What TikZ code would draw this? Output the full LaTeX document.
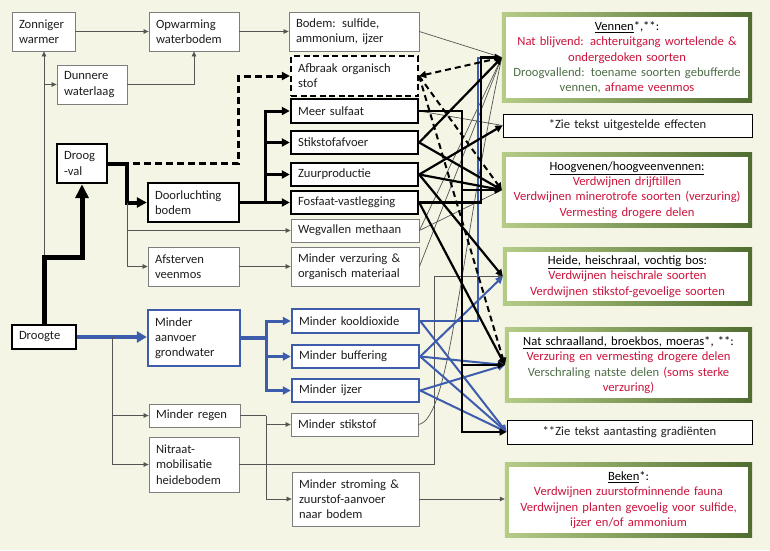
\documentclass[tikz,border=0pt]{standalone}
\usepackage{fontspec}
\setmainfont{Carlito}
\usetikzlibrary{arrows.meta,backgrounds,calc}
\definecolor{cream}{RGB}{244,245,228}
\definecolor{bblue}{RGB}{62,92,172}
\definecolor{tred}{RGB}{204,20,60}
\definecolor{tgreen}{RGB}{78,110,70}
\definecolor{gl}{RGB}{180,204,134}
\definecolor{gd}{RGB}{80,108,48}
\definecolor{lgray}{RGB}{125,125,125}
\definecolor{tgray}{RGB}{85,85,85}
\definecolor{txt}{RGB}{30,30,30}
\begin{document}
\begin{tikzpicture}[x=1pt,y=-1pt, font=\fontsize{12.6}{15.2}\selectfont,
  box/.style={fill=white, inner xsep=7pt, inner ysep=0pt, align=left, text=txt},
  thinbox/.style={box, draw=lgray, line width=0.8pt},
  thickbox/.style={box, draw=black, line width=2.4pt},
  dashbox/.style={box, draw=black, line width=2.2pt, dash pattern=on 6pt off 3.5pt},
  bluebox/.style={box, draw=bblue, line width=2.4pt},
  gbox/.style={inner xsep=2pt, inner ysep=0pt, align=center, text=black},
  zbox/.style={fill=white, draw=black, line width=1pt, inner xsep=2pt, inner ysep=0pt, align=center, text=txt},
  thinl/.style={draw=tgray, line width=0.7pt},
  tarr/.style={thinl, -{Triangle[length=5pt,width=4.5pt]}},
  blk/.style={draw=black, line width=2.2pt, -{Triangle[length=7pt,width=7pt]}},
  blu/.style={draw=bblue, line width=2pt, -{Triangle[length=7pt,width=7pt]}},
  dsh/.style={draw=black, line width=2pt, dash pattern=on 6pt off 4pt}
]
\useasboundingbox (0,0) rectangle (770,550);

% ---- left / middle nodes
\node[thinbox, text width=49pt, minimum height=39pt] (zon) at (43.5,31.5) {Zonniger\\warmer};
\node[thinbox, text width=76pt, minimum height=39pt] (opw) at (194,31.5) {Opwarming\\waterbodem};
\node[thinbox, text width=116pt, minimum height=39pt] (bod) at (354,31.5) {Bodem: sulfide,\\ammonium, ijzer};
\node[thinbox, text width=56pt, minimum height=39pt] (dun) at (92,84.5) {Dunnere\\waterlaag};
\node[dashbox, text width=113pt, minimum height=40pt] (afb) at (354.5,76) {Afbraak organisch\\stof};
\node[thickbox, text width=113pt, minimum height=24pt] (sul) at (354.5,111) {Meer sulfaat};
\node[thickbox, text width=113pt, minimum height=23pt] (stik) at (354.5,142.5) {Stikstofafvoer};
\node[thickbox, text width=113pt, minimum height=23pt] (zuur) at (354.5,174.5) {Zuurproductie};
\node[thickbox, text width=113pt, minimum height=23pt] (fos) at (354.5,202.5) {Fosfaat-vastlegging};
\node[thinbox, text width=114pt, minimum height=23pt] (weg) at (355,230.5) {Wegvallen methaan};
\node[thinbox, text width=114pt, minimum height=39pt] (verz) at (355,266.5) {Minder verzuring \&\\organisch materiaal};
\node[thickbox, text width=36pt, minimum height=39pt] (drv) at (82,163.5) {Droog\\-val};
\node[thickbox, text width=77pt, minimum height=39pt] (door) at (193.5,202.5) {Doorluchting\\bodem};
\node[thinbox, text width=77pt, minimum height=39pt] (afst) at (193.5,266.5) {Afsterven\\veenmos};
\node[thickbox, text width=50pt, minimum height=24pt] (droo) at (44,337) {Droogte};
\node[bluebox, text width=78pt, minimum height=56pt] (aanv) at (194,338) {Minder\\aanvoer\\grondwater};
\node[bluebox, text width=113pt, minimum height=24pt] (kool) at (355.5,321) {Minder kooldioxide};
\node[bluebox, text width=113pt, minimum height=23pt] (buf) at (355.5,356.5) {Minder buffering};
\node[bluebox, text width=113pt, minimum height=23pt] (ijz) at (355.5,390.5) {Minder ijzer};
\node[thinbox, text width=77pt, minimum height=23pt] (reg) at (194.5,415.5) {Minder regen};
\node[thinbox, text width=113pt, minimum height=23pt] (mst) at (354.5,424.5) {Minder stikstof};
\node[thinbox, text width=76pt, minimum height=55pt] (nit) at (194,464.5) {Nitraat-\\mobilisatie\\heidebodem};
\node[thinbox, text width=113pt, minimum height=54pt] (str) at (355.5,499) {Minder stroming \&\\zuurstof-aanvoer\\naar bodem};

% ---- right nodes
\node[gbox, text width=246pt, minimum height=89pt] (ven) at (627,57.5) {\underline{Vennen}*,**:\\\textcolor{tred}{Nat blijvend: achteruitgang wortelende \&}\\\textcolor{tred}{ondergedoken soorten}\\\textcolor{tgreen}{Droogvallend: toename soorten gebufferde}\\\textcolor{tgreen}{vennen,} \textcolor{tred}{afname veenmos}};
\node[zbox, text width=245pt, minimum height=23pt] (zie1) at (627.5,125.5) {*Zie tekst uitgestelde effecten};
\node[gbox, text width=246pt, minimum height=74pt] (hoog) at (627,190) {\underline{Hoogvenen/hoogveenvennen:}\\\textcolor{tred}{Verdwijnen drijftillen}\\\textcolor{tred}{Verdwijnen minerotrofe soorten (verzuring)}\\\textcolor{tred}{Vermesting drogere delen}};
\node[gbox, text width=245pt, minimum height=57pt] (heide) at (627.5,276.5) {\underline{Heide, heischraal, vochtig bos}:\\\textcolor{tred}{Verdwijnen heischrale soorten}\\\textcolor{tred}{Verdwijnen stikstof-gevoelige soorten}};
\node[gbox, text width=243pt, minimum height=74pt] (nat) at (628.5,365) {\underline{Nat schraalland, broekbos, moeras}*, **:\\\textcolor{tred}{Verzuring en vermesting drogere delen}\\\textcolor{tgreen}{Verschraling natste delen} \textcolor{tred}{(soms sterke}\\\textcolor{tred}{verzuring)}};
\node[zbox, text width=241pt, minimum height=24pt] (zie2) at (629.5,432) {**Zie tekst aantasting gradiënten};
\node[gbox, text width=243pt, minimum height=74pt] (bek) at (628.5,500) {\underline{Beken}*:\\\textcolor{tred}{Verdwijnen zuurstofminnende fauna}\\\textcolor{tred}{Verdwijnen planten gevoelig voor sulfide,}\\\textcolor{tred}{ijzer en/of ammonium}};

% ---- bend coordinates
\coordinate (b1) at (44,257);
\coordinate (b2) at (127,163.5);
\coordinate (b3) at (265,202.5);
\coordinate (b4) at (112,337);
\coordinate (b5) at (266,338);
\coordinate (b6) at (266,415.5);
\coordinate (b7) at (238,163.5);
\coordinate (vn) at (434,0);
\coordinate (vs) at (462,0);
\coordinate (vk) at (478,0);
\coordinate (vf) at (481,0);

% ---- left connectors
\draw[tarr] (zon.east) -- (opw.west);
\draw[tarr] (opw.east) -- (bod.west);
\draw[tarr] (droo.north) -- (droo.north |- zon.south);
\draw[tarr] (droo.north |- dun.west) -- (dun.west);
\draw[tarr] (dun.east) -| (opw.south);
\draw[draw=black, line width=5pt, -{Triangle[length=14pt,width=13pt]}] (droo.north) -- (b1) -| (drv.south);
\draw[draw=black, line width=4pt, -{Triangle[length=10pt,width=10pt]}] (drv.east) -- (b2) |- (door.west);
\draw[draw=black, line width=3pt, dash pattern=on 7pt off 4pt, -{Triangle[length=8pt,width=8pt]}] ([xshift=6pt]b2) -- (b7) |- (afb.west);
\draw[tarr] (b2 |- door.west) |- (weg.west);
\draw[tarr] (b2 |- door.west) |- (afst.west);
\draw[tarr] (afst.east) -- (verz.west);
\draw[draw=black, line width=3.5pt] (door.east) -- (b3);
\foreach \t in {sul,stik,zuur,fos}{
  \draw[draw=black, line width=3pt, -{Triangle[length=8pt,width=8pt]}] (b3) |- (\t.west);
}
\draw[draw=bblue, line width=4pt, -{Triangle[length=10pt,width=11pt]}] (droo.east) -- (droo.east -| aanv.west);
\draw[tarr] (b4) |- (reg.west);
\draw[tarr] (b4) |- (nit.west);
\draw[draw=bblue, line width=3.5pt] (aanv.east) -- (b5);
\foreach \t in {kool,buf,ijz}{
  \draw[draw=bblue, line width=3pt, -{Triangle[length=8pt,width=8pt]}] (b5) |- (\t.west);
}
\draw[thinl] (reg.east) -- (b6);
\draw[tarr] (b6) |- (mst.west);
\draw[tarr] (b6) |- (str.west);
\draw[tarr] (str.east) -- (str.east -| bek.west);
\draw[tarr] (nit.east) -| (vn |- heide.west) -- (heide.west);

% ---- right web: thin
\draw[thinl] (bod.east) -- (ven.west);
\draw[thinl] (sul.east) -- (zie1.west);
\draw[thinl] (weg.east) -- (ven.west);
\draw[thinl] (weg.east) -- (hoog.west);
\draw[thinl] (verz.east) -- (ven.west);
\draw[thinl] (mst.east) .. controls (450,420) and (460,250) .. (ven.west);

% ---- right web: blue
\draw[blu] (kool.east) -| (vk |- ven.west) -- (ven.west);
\draw[blu] (kool.east) -- (zie2.west);
\draw[blu] (buf.east) -- (heide.west);
\draw[blu] (buf.east) -- (nat.west);
\draw[blu] (buf.east) -- (zie2.west);
\draw[blu] (ijz.east) -- (nat.west);
\draw[blu] (ijz.east) -- (zie2.west);

% ---- right web: dashed
\draw[dsh, {Triangle[length=7pt,width=7pt]}-] (afb.east) -- (ven.west);
\draw[dsh, -{Triangle[length=7pt,width=7pt]}] (afb.east) -- (hoog.west);
\draw[dsh, -{Triangle[length=7pt,width=7pt]}] (afb.east) -- (nat.west);

% ---- right web: black
\draw[blk] (stik.east) -- (ven.west);
\draw[blk] (stik.east) -- (hoog.west);
\draw[blk] (zuur.east) -- (zie1.west);
\draw[blk] (zuur.east) -- (hoog.west);
\draw[blk] (zuur.east) -- (heide.west);
\draw[blk] (fos.east) -| (vf |- ven.west) -- (ven.west);
\draw[blk] (fos.east) -- (nat.west);
\draw[blk] (sul.east) -| (vs |- zie2.west) -- (zie2.west);
\draw[blk] (vs |- hoog.west) -- (hoog.west);
\draw[blk] (vs |- nat.west) -- (nat.west);

% ---- background and green frames
\begin{scope}[on background layer]
  \fill[cream] (0,0) rectangle (770,550);
  \foreach \n in {ven,hoog,heide,nat,bek}{
    \shade[left color=gl, right color=gd] (\n.north west) rectangle (\n.south east);
    \fill[white] ([xshift=4.5pt,yshift=-4.5pt]\n.north west) rectangle ([xshift=-4.5pt,yshift=4.5pt]\n.south east);
  }
\end{scope}
\end{tikzpicture}
\end{document}
